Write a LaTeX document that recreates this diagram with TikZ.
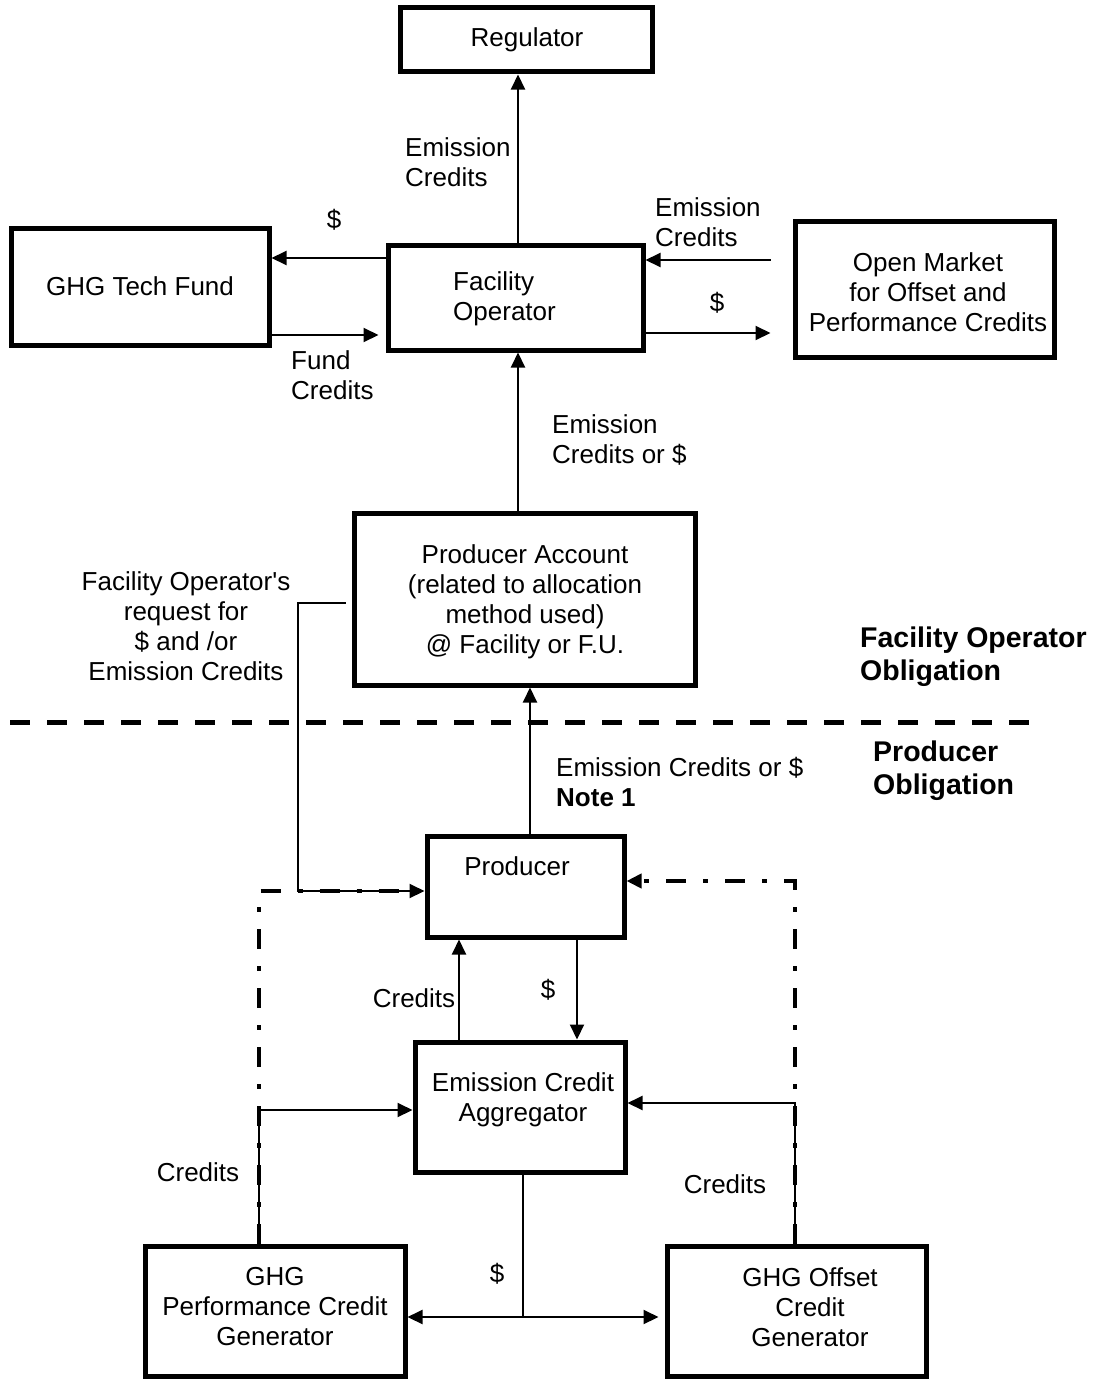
\documentclass[tikz,border=0pt]{standalone}
\usepackage{fontspec}
\setmainfont{Liberation Sans}[Ligatures=TeXOff]
\usetikzlibrary{arrows.meta}
\begin{document}
\begin{tikzpicture}[x=1pt,y=-1pt,
  every node/.style={font=\fontsize{26}{30}\selectfont, inner sep=0pt},
  box/.style={draw, line width=5pt, rectangle, align=center},
  conn/.style={line width=2pt, -{Triangle[length=15pt,width=14pt]}},
  plainline/.style={line width=2pt},
  lbl/.style={align=left, anchor=west},
  oblig/.style={align=left, anchor=west, font=\fontsize{28.5}{33}\selectfont\bfseries},
  sepline/.style={line width=5pt, dash pattern=on 20pt off 17pt},
  dashdot/.style={line width=4.5pt, dash pattern=on 20pt off 17pt on 5pt off 17pt}
]
\useasboundingbox (0,0) rectangle (1099,1381);

% boxes
\node[box, minimum width=252pt, minimum height=64pt] (reg) at (526,40) {};
\node (regtext) at (527,40) {Regulator};
\node[box, minimum width=258pt, minimum height=117pt] (tf) at (140,286.5) {GHG Tech Fund};
\node[box, minimum width=259pt, minimum height=136pt] (om) at (924.5,289) {};
\node[align=center] (omtext) at (928,292) {Open Market\\for Offset and\\Performance Credits};
\node[box, minimum width=255pt, minimum height=105pt] (fo) at (515.5,297.5) {};
\node[lbl] (fotext) at (453,299) {Facility\\Operator};
\node[box, minimum width=341pt, minimum height=172pt] (pa) at (524.5,599) {};
\node[align=center] (patext) at (525,602) {Producer Account\\(related to allocation\\method used)\\@ Facility or F.U.};
\node[box, minimum width=197pt, minimum height=101pt] (pr) at (525.5,886.5) {};
\node (prtext) at (517,866) {Producer};
\node[box, minimum width=210pt, minimum height=130pt] (ag) at (520,1107) {};
\node[align=center] (agtext) at (523,1100) {Emission Credit\\Aggregator};
\node[box, minimum width=260pt, minimum height=130pt] (pg) at (275,1311) {};
\node[align=center] (pgtext) at (275,1307) {GHG\\Performance Credit\\Generator};
\node[box, minimum width=259pt, minimum height=130pt] (og) at (796.5,1311) {};
\node[align=center] (ogtext) at (810,1307) {GHG Offset\\Credit\\Generator};

% helper coordinates
\coordinate (x518) at (518,0);
\coordinate (x530) at (530,0);
\coordinate (x459) at (459,0);
\coordinate (x577) at (577,0);
\coordinate (x259) at (259,0);
\coordinate (x795) at (795,0);
\coordinate (y258) at (0,258);
\coordinate (y335) at (0,335);
\coordinate (y260) at (0,260);
\coordinate (y333) at (0,333);
\coordinate (y603) at (0,603);
\coordinate (y891) at (0,891);
\coordinate (y881) at (0,881);
\coordinate (y1110) at (0,1110);
\coordinate (y1103) at (0,1103);
\coordinate (split) at (523,1317);
\coordinate (sepL) at (10,722);
\coordinate (sepR) at (1040,722);

% separator
\draw[sepline] (sepL) -- (sepR);

% top connectors
\draw[conn] (fo.north -| x518) -- (reg.south -| x518);
\draw[conn] (fo.west |- y258) -- (tf.east |- y258);
\draw[conn, shorten >=7pt] (tf.east |- y335) -- (fo.west |- y335);
\draw[conn, shorten <=22pt] (om.west |- y260) -- (fo.east |- y260);
\draw[conn, shorten >=22pt] (fo.east |- y333) -- (om.west |- y333);
\draw[conn] (pa.north -| x518) -- (fo.south -| x518);
\draw[conn] (pr.north -| x530) -- (pa.south -| x530);

% dash-dot credit paths
\draw[dashdot, shorten >=12pt] (pg.north -| x259) -- (259,891) -- (pr.west |- y891);
\draw[dashdot, -{Triangle[length=15pt,width=14pt]}] (og.north -| x795) -- (795,881) -- (pr.east |- y881);

% request line
\draw[conn, shorten <=6pt] (pa.west |- y603) -- (298,603) -- (298,891) -- (pr.west |- y891);

% credits to aggregator
\draw[conn] (pg.north -| x259) -- (259,1110) -- (ag.west |- y1110);
\draw[conn] (og.north -| x795) -- (795,1103) -- (ag.east |- y1103);

% aggregator <-> producer
\draw[conn] (ag.north -| x459) -- (pr.south -| x459);
\draw[conn] (pr.south -| x577) -- (ag.north -| x577);

% $ split
\draw[plainline] (ag.south -| split) -- (split);
\draw[conn] (split) -- (pg.east |- split);
\draw[conn, shorten >=6pt] (split) -- (og.west |- split);

% labels
\node[lbl] (l1) at (405,162) {Emission\\Credits};
\node (l2) at (334,220) {\$};
\node[lbl] (l3) at (655,222) {Emission\\Credits};
\node (l4) at (717,303) {\$};
\node[lbl] (l5) at (291,375) {Fund\\Credits};
\node[lbl] (l6) at (552,440) {Emission\\Credits or \$};
\node[align=center] (l7) at (186,626) {Facility Operator's\\request for\\\$ and /or\\Emission Credits};
\node[oblig] (l8) at (860,657) {Facility Operator\\Obligation};
\node[oblig] (l9) at (873,771) {Producer\\Obligation};
\node[lbl] (l10) at (556,782) {Emission Credits or \$\\\textbf{Note 1}};
\node (l11) at (414,998) {Credits};
\node (l12) at (548,990) {\$};
\node (l13) at (198,1172) {Credits};
\node (l14) at (725,1184) {Credits};
\node (l15) at (497,1274) {\$};
\end{tikzpicture}
\end{document}
